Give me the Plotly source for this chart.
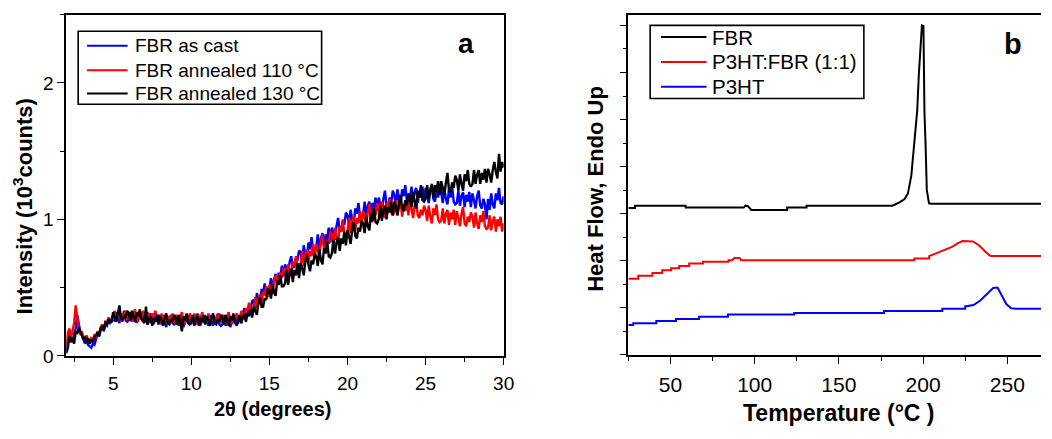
import numpy as np
import plotly.graph_objects as go

# ---------------- Panel a : XRD (2theta grid 2.0 .. 30.0, step 0.1) ----------------
xrd_start = 2.0
xrd_step = 0.1

fbr_as_cast = [
    0.04, 0.10, 0.17, 0.13, 0.11, 0.16, 0.20, 0.30, 0.22, 0.17,
    0.15, 0.12, 0.09, 0.11, 0.08, 0.07, 0.06, 0.09, 0.08, 0.12,
    0.16, 0.14, 0.19, 0.21, 0.18, 0.23, 0.22, 0.26, 0.24, 0.25,
    0.30, 0.25, 0.32, 0.27, 0.24, 0.31, 0.28, 0.33, 0.26, 0.25,
    0.26, 0.32, 0.25, 0.29, 0.31, 0.24, 0.30, 0.27, 0.32, 0.25,
    0.30, 0.27, 0.23, 0.28, 0.31, 0.25, 0.24, 0.27, 0.26, 0.30,
    0.28, 0.23, 0.30, 0.25, 0.21, 0.29, 0.26, 0.30, 0.24, 0.23,
    0.24, 0.30, 0.22, 0.27, 0.29, 0.21, 0.28, 0.25, 0.30, 0.23,
    0.29, 0.26, 0.22, 0.27, 0.31, 0.24, 0.23, 0.26, 0.25, 0.29,
    0.28, 0.22, 0.30, 0.25, 0.22, 0.29, 0.26, 0.31, 0.23, 0.22,
    0.23, 0.30, 0.22, 0.26, 0.29, 0.21, 0.27, 0.24, 0.29, 0.22,
    0.29, 0.27, 0.24, 0.31, 0.35, 0.30, 0.30, 0.35, 0.34, 0.40,
    0.41, 0.35, 0.46, 0.41, 0.38, 0.49, 0.46, 0.53, 0.45, 0.46,
    0.48, 0.57, 0.49, 0.56, 0.60, 0.52, 0.61, 0.58, 0.66, 0.58,
    0.67, 0.64, 0.60, 0.69, 0.73, 0.65, 0.65, 0.71, 0.70, 0.77,
    0.76, 0.69, 0.81, 0.74, 0.71, 0.83, 0.78, 0.87, 0.77, 0.76,
    0.79, 0.89, 0.78, 0.86, 0.90, 0.80, 0.89, 0.85, 0.94, 0.83,
    0.94, 0.90, 0.85, 0.95, 1.01, 0.92, 0.91, 0.99, 0.96, 1.05,
    1.03, 0.96, 1.07, 1.00, 0.96, 1.08, 1.04, 1.12, 1.02, 1.00,
    1.03, 1.13, 1.02, 1.10, 1.13, 1.03, 1.12, 1.08, 1.16, 1.06,
    1.16, 1.11, 1.06, 1.15, 1.21, 1.10, 1.08, 1.16, 1.12, 1.21,
    1.18, 1.10, 1.22, 1.14, 1.10, 1.22, 1.17, 1.25, 1.14, 1.13,
    1.15, 1.24, 1.13, 1.20, 1.23, 1.12, 1.21, 1.16, 1.24, 1.13,
    1.23, 1.18, 1.12, 1.21, 1.26, 1.15, 1.13, 1.20, 1.16, 1.24,
    1.20, 1.12, 1.23, 1.15, 1.11, 1.22, 1.16, 1.24, 1.13, 1.11,
    1.12, 1.21, 1.10, 1.17, 1.20, 1.09, 1.18, 1.13, 1.20, 1.09,
    1.19, 1.14, 1.08, 1.17, 1.21, 1.10, 1.08, 1.15, 1.11, 1.00,
    1.15, 1.07, 1.19, 1.11, 1.08, 1.19, 1.14, 1.23, 1.12, 1.11,
    1.17,
]

fbr_110 = [
    0.07, 0.17, 0.20, 0.14, 0.18, 0.24, 0.37, 0.26, 0.19, 0.16,
    0.17, 0.14, 0.12, 0.15, 0.11, 0.10, 0.13, 0.12, 0.15, 0.14,
    0.18, 0.16, 0.21, 0.23, 0.20, 0.25, 0.24, 0.28, 0.26, 0.27,
    0.27, 0.33, 0.26, 0.30, 0.32, 0.25, 0.31, 0.28, 0.33, 0.26,
    0.32, 0.29, 0.25, 0.31, 0.34, 0.27, 0.26, 0.30, 0.28, 0.33,
    0.30, 0.25, 0.32, 0.27, 0.24, 0.31, 0.28, 0.33, 0.26, 0.25,
    0.25, 0.31, 0.24, 0.28, 0.30, 0.23, 0.29, 0.26, 0.31, 0.24,
    0.30, 0.27, 0.23, 0.29, 0.32, 0.25, 0.24, 0.28, 0.26, 0.31,
    0.29, 0.24, 0.31, 0.26, 0.23, 0.30, 0.27, 0.32, 0.25, 0.24,
    0.25, 0.31, 0.24, 0.28, 0.30, 0.23, 0.29, 0.26, 0.31, 0.24,
    0.30, 0.27, 0.23, 0.29, 0.32, 0.25, 0.24, 0.28, 0.26, 0.31,
    0.29, 0.25, 0.33, 0.29, 0.27, 0.35, 0.33, 0.39, 0.33, 0.33,
    0.34, 0.43, 0.35, 0.41, 0.45, 0.38, 0.47, 0.44, 0.51, 0.43,
    0.52, 0.49, 0.45, 0.55, 0.59, 0.53, 0.54, 0.61, 0.57, 0.64,
    0.63, 0.57, 0.67, 0.62, 0.59, 0.69, 0.66, 0.73, 0.65, 0.65,
    0.67, 0.77, 0.66, 0.74, 0.78, 0.68, 0.77, 0.73, 0.82, 0.71,
    0.82, 0.78, 0.73, 0.83, 0.89, 0.79, 0.77, 0.85, 0.82, 0.91,
    0.89, 0.82, 0.94, 0.86, 0.83, 0.95, 0.91, 1.00, 0.89, 0.88,
    0.91, 1.01, 0.90, 0.98, 1.02, 0.92, 1.01, 0.97, 1.06, 0.95,
    1.06, 1.02, 0.96, 1.05, 1.11, 1.00, 0.98, 1.06, 1.03, 1.12,
    1.09, 1.01, 1.13, 1.05, 1.01, 1.12, 1.07, 1.15, 1.05, 1.03,
    1.05, 1.14, 1.03, 1.10, 1.13, 1.02, 1.11, 1.06, 1.14, 1.03,
    1.13, 1.08, 1.01, 1.10, 1.14, 1.03, 1.01, 1.07, 1.03, 1.10,
    1.07, 0.99, 1.10, 1.02, 0.97, 1.08, 1.03, 1.11, 1.00, 0.98,
    0.99, 1.08, 0.97, 1.04, 1.07, 0.96, 1.05, 1.00, 1.07, 0.96,
    1.06, 1.01, 0.95, 1.04, 1.09, 0.97, 0.95, 1.02, 0.98, 1.05,
    1.02, 0.94, 1.05, 0.97, 0.93, 1.03, 0.98, 1.06, 0.95, 0.93,
    0.94, 1.03, 0.92, 0.99, 1.02, 0.91, 1.00, 0.95, 1.02, 0.91,
    0.97,
]

fbr_130 = [
    0.02, 0.06, 0.14, 0.10, 0.13, 0.09, 0.18, 0.16, 0.21, 0.18,
    0.15, 0.12, 0.14, 0.10, 0.13, 0.09, 0.12, 0.10, 0.14, 0.15,
    0.17, 0.15, 0.20, 0.22, 0.19, 0.24, 0.23, 0.27, 0.25, 0.26,
    0.32, 0.29, 0.25, 0.31, 0.37, 0.27, 0.26, 0.30, 0.28, 0.33,
    0.31, 0.26, 0.33, 0.28, 0.25, 0.32, 0.29, 0.34, 0.27, 0.26,
    0.24, 0.36, 0.23, 0.27, 0.29, 0.22, 0.28, 0.25, 0.30, 0.23,
    0.29, 0.26, 0.22, 0.28, 0.31, 0.24, 0.23, 0.27, 0.25, 0.30,
    0.28, 0.23, 0.30, 0.25, 0.18, 0.29, 0.26, 0.31, 0.24, 0.23,
    0.24, 0.30, 0.23, 0.27, 0.29, 0.22, 0.28, 0.25, 0.30, 0.23,
    0.29, 0.26, 0.22, 0.28, 0.31, 0.24, 0.23, 0.27, 0.25, 0.30,
    0.28, 0.23, 0.30, 0.25, 0.22, 0.29, 0.26, 0.31, 0.24, 0.23,
    0.24, 0.30, 0.24, 0.28, 0.31, 0.25, 0.31, 0.29, 0.34, 0.28,
    0.36, 0.33, 0.30, 0.39, 0.43, 0.36, 0.36, 0.42, 0.41, 0.49,
    0.48, 0.42, 0.52, 0.47, 0.44, 0.55, 0.52, 0.59, 0.51, 0.51,
    0.53, 0.63, 0.52, 0.60, 0.64, 0.54, 0.63, 0.59, 0.68, 0.57,
    0.68, 0.64, 0.59, 0.69, 0.74, 0.67, 0.62, 0.70, 0.67, 0.75,
    0.73, 0.66, 0.78, 0.70, 0.67, 0.79, 0.75, 0.84, 0.73, 0.72,
    0.75, 0.85, 0.75, 0.83, 0.87, 0.77, 0.86, 0.82, 0.91, 0.81,
    0.92, 0.88, 0.82, 0.92, 0.98, 0.88, 0.86, 0.94, 0.91, 0.99,
    0.97, 0.90, 1.02, 0.95, 0.92, 1.04, 0.99, 1.08, 0.98, 0.97,
    1.00, 1.10, 0.99, 1.07, 1.10, 1.00, 1.09, 1.05, 1.13, 1.03,
    1.13, 1.09, 1.03, 1.12, 1.18, 1.08, 1.06, 1.14, 1.10, 1.19,
    1.16, 1.09, 1.20, 1.13, 1.08, 1.21, 1.16, 1.25, 1.14, 1.13,
    1.15, 1.25, 1.15, 1.22, 1.25, 1.16, 1.25, 1.20, 1.28, 1.18,
    1.28, 1.23, 1.18, 1.27, 1.34, 1.21, 1.20, 1.27, 1.23, 1.32,
    1.29, 1.21, 1.33, 1.26, 1.21, 1.33, 1.28, 1.36, 1.26, 1.24,
    1.26, 1.36, 1.26, 1.33, 1.36, 1.26, 1.34, 1.29, 1.37, 1.27,
    1.37, 1.33, 1.27, 1.36, 1.42, 1.35, 1.30, 1.48, 1.35, 1.42,
    1.38,
]

xrd_names = ["FBR as cast", "FBR annealed 110 \u00b0C", "FBR annealed 130 \u00b0C"]
xrd_colors = ["#0000ff", "#ff0000", "#000000"]

# ---------------- Panel b : DSC ----------------
fbr_T = [25, 28.9, 28.9, 59, 59, 93.5, 94.5, 96, 98, 119.3, 119.3, 130.8, 130.8,
         181.7, 183, 186, 189, 191, 193, 195, 196.5, 197.5, 198.5, 199.3, 200.2,
         200.8, 201.5, 202.2, 203.5, 205, 270]
fbr_hf = [3.12, 3.12, 3.17, 3.17, 3.13, 3.13, 3.17, 3.16, 3.08, 3.08, 3.13, 3.13, 3.17,
          3.17, 3.19, 3.24, 3.31, 3.43, 3.81, 4.57, 5.19, 5.98, 6.50, 7.00, 6.99,
          5.16, 4.43, 3.50, 3.22, 3.21, 3.21]

blend_T = [25, 30.9, 30.9, 39.3, 39.3, 45.1, 45.1, 50.4, 50.4, 55.2, 55.2, 61.1, 61.1,
           69.3, 69.3, 84.5, 84.5, 86.5, 88, 91, 91.9, 194.8, 194.8, 203.6, 203.6,
           208.4, 212.4, 217.5, 220.4, 223.4, 229.6, 233.1, 237, 240, 270]
blend_hf = [1.615, 1.615, 1.68, 1.68, 1.74, 1.74, 1.80, 1.80, 1.84, 1.84, 1.89, 1.89, 1.94,
            1.94, 1.98, 1.98, 2.01, 2.01, 2.06, 2.06, 2.01, 2.01, 2.05, 2.05, 2.10,
            2.17, 2.22, 2.30, 2.37, 2.42, 2.41, 2.33, 2.19, 2.10, 2.10]

p3ht_T = [25, 27.9, 27.9, 41.6, 41.6, 53.3, 53.3, 67, 67, 84.1, 84.1, 123.5, 123.5,
          176.8, 176.8, 211.4, 211.4, 225, 225, 229.9, 233.8, 237.7, 241.6, 244.2,
          246.5, 249.4, 252.3, 255, 270]
p3ht_hf = [0.635, 0.635, 0.67, 0.67, 0.72, 0.72, 0.76, 0.76, 0.81, 0.81, 0.86, 0.86, 0.89,
           0.89, 0.93, 0.93, 0.98, 0.98, 1.03, 1.06, 1.15, 1.29, 1.42, 1.43,
           1.26, 1.08, 0.99, 0.98, 0.98]

dsc_names = ["FBR", "P3HT:FBR (1:1)", "P3HT"]
dsc_colors = ["#000000", "#ff0000", "#0000ff"]

FONT = "Liberation Sans, Arial, sans-serif"

fig = go.Figure()

for ys, name, col in zip([fbr_as_cast, fbr_110, fbr_130], xrd_names, xrd_colors):
    xs = np.round(xrd_start + xrd_step * np.arange(len(ys)), 2)
    fig.add_trace(go.Scatter(x=xs, y=ys, mode="lines", name=name,
                             line=dict(color=col, width=2.4),
                             xaxis="x", yaxis="y", showlegend=False))

for xs, ys, name, col in zip([fbr_T, blend_T, p3ht_T], [fbr_hf, blend_hf, p3ht_hf],
                             dsc_names, dsc_colors):
    fig.add_trace(go.Scatter(x=xs, y=ys, mode="lines", name=name,
                             line=dict(color=col, width=2),
                             xaxis="x2", yaxis="y2", showlegend=False))

W, H = 1052, 439
def px_x(p):
    return p / W
def px_y(p):
    return 1 - p / H

def axis_style(font_size):
    return dict(showline=True, linecolor="black", linewidth=1.6, showgrid=False,
                zeroline=False, ticks="outside", tickcolor="black", tickwidth=1.4,
                ticklen=7, tickfont=dict(family=FONT, size=font_size, color="black"))

minor_style = dict(ticks="outside", ticklen=4, tickcolor="black", tickwidth=1.2)

fig.update_layout(
    width=W, height=H, autosize=False,
    margin=dict(l=0, r=0, t=0, b=0, pad=0),
    paper_bgcolor="white", plot_bgcolor="white",
    font=dict(family=FONT, color="black"),
    showlegend=False,
    xaxis=dict(domain=[px_x(67), px_x(509)], range=[2, 30], dtick=5, tick0=0,
               mirror=True, anchor="y", ticklabelstandoff=3,
               minor=dict(dtick=2.5, tick0=0, **minor_style), **axis_style(19)),
    yaxis=dict(domain=[px_y(365), px_y(15)], range=[0, 2.5], dtick=1, tick0=0,
               mirror=True, anchor="x",
               minor=dict(dtick=0.5, tick0=0, **minor_style), **axis_style(19)),
    xaxis2=dict(domain=[px_x(635), 1.0], range=[25, 270], dtick=50, tick0=0,
                mirror=True, anchor="y2", ticklabelstandoff=3,
                minor=dict(dtick=25, tick0=0, **minor_style), **axis_style(21)),
    yaxis2=dict(domain=[px_y(364), px_y(15)], range=[0, 7.23], dtick=1, tick0=0,
                mirror=False, anchor="x2", showticklabels=False,
                minor=dict(dtick=0.5, tick0=0, **minor_style), **axis_style(21)),
)

# ---- legends (box, line samples, labels) ----
def draw_legend(box, sample_x, text_x, rows_y, names, colors, size):
    x0, y0, x1, y1 = box
    fig.add_shape(type="rect", xref="paper", yref="paper",
                  x0=px_x(x0), x1=px_x(x1), y0=px_y(y1), y1=px_y(y0),
                  line=dict(color="black", width=1.6), fillcolor="white", layer="above")
    for yy, nm, col in zip(rows_y, names, colors):
        fig.add_shape(type="line", xref="paper", yref="paper",
                      x0=px_x(sample_x[0]), x1=px_x(sample_x[1]),
                      y0=px_y(yy), y1=px_y(yy),
                      line=dict(color=col, width=2), layer="above")
        fig.add_annotation(text=nm, xref="paper", yref="paper",
                           x=px_x(text_x), y=px_y(yy), xanchor="left", yanchor="middle",
                           showarrow=False,
                           font=dict(family=FONT, size=size, color="black"))

draw_legend((79, 32, 325, 107), (88, 129), 134, [47, 72, 96], xrd_names, xrd_colors, 19)
draw_legend((657, 26, 873, 101), (668, 714), 717, [38, 63.5, 89], dsc_names, dsc_colors, 20.5)

annos = [
    dict(text="<b>Intensity (10<sup>3</sup>counts)</b>", x=px_x(23), y=px_y(212),
         textangle=-90, font=dict(size=22)),
    dict(text="<b>2\u03b8 (degrees)</b>", x=px_x(276), y=px_y(419), font=dict(size=20)),
    dict(text="<b>a</b>", x=px_x(471), y=px_y(45), font=dict(size=28)),
    dict(text="<b>Heat Flow, Endo Up</b>", x=px_x(601), y=px_y(194),
         textangle=-90, font=dict(size=22)),
    dict(text="<b>Temperature (\u00b0C )</b>", x=px_x(848), y=px_y(424), font=dict(size=23)),
    dict(text="<b>b</b>", x=px_x(1024), y=px_y(45), font=dict(size=29)),
]
for a in annos:
    a.update(xref="paper", yref="paper", showarrow=False, xanchor="center", yanchor="middle")
    a["font"].update(family=FONT, color="black")
    fig.add_annotation(**a)

fig.write_html("out.html")
